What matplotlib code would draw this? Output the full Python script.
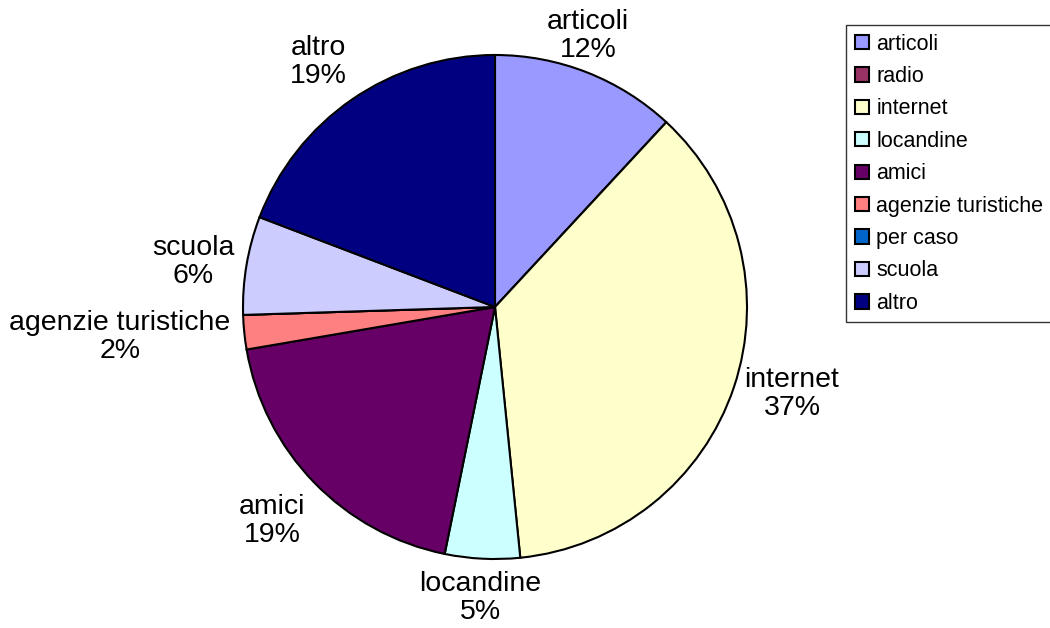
import matplotlib.pyplot as plt

categories = ['articoli', 'radio', 'internet', 'locandine', 'amici',
              'agenzie turistiche', 'per caso', 'scuola', 'altro']
values = [11.9, 0.0, 36.5, 4.8, 19.1, 2.2, 0.0, 6.3, 19.2]
pct_labels = ['12%', '0%', '37%', '5%', '19%', '2%', '0%', '6%', '19%']
colors = ['#9999FF', '#993366', '#FFFFCC', '#CCFFFF', '#660066',
          '#FF8080', '#0066CC', '#CCCCFF', '#000080']

# label centres in pixel coords (x, y from bottom); None = no label
label_xy = [(588, 592), None, (792, 234), (480, 30), (272, 107),
            (120, 291), None, (193, 366), (318, 566)]

plt.rcParams['font.family'] = ['Liberation Sans', 'DejaVu Sans']

fig = plt.figure(figsize=(10.5, 6.28), dpi=100)
ax = fig.add_axes([0, 0, 1, 1])

wedges, _ = ax.pie(values, colors=colors, startangle=90, counterclock=False,
                   center=(495, 321), radius=252, frame=True,
                   wedgeprops=dict(edgecolor='black', linewidth=1.5))
ax.set_xlim(0, 1050)
ax.set_ylim(0, 628)
ax.set_aspect('equal')
ax.axis('off')

for name, pct, xy in zip(categories, pct_labels, label_xy):
    if xy is None:
        continue
    ax.text(xy[0], xy[1], name + '\n' + pct, ha='center', va='center',
            fontsize=20.5, linespacing=1.08)

leg = fig.legend(wedges, categories, loc='upper left',
                 bbox_to_anchor=(846 / 1050, 1 - 25 / 628),
                 fontsize=15.5, frameon=True, fancybox=False,
                 handlelength=0.65, handleheight=0.65, handletextpad=0.35,
                 labelspacing=0.53, borderpad=0.4, borderaxespad=0)
leg.get_frame().set_edgecolor('black')
leg.get_frame().set_linewidth(1.0)

fig.savefig('out.png', dpi=100)
